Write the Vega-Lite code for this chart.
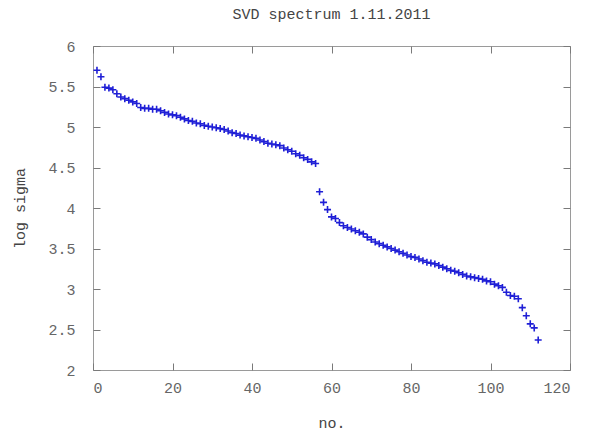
{
  "$schema": "https://vega.github.io/schema/vega-lite/v6.json",
  "width": 477,
  "height": 324,
  "autosize": "none",
  "padding": {"left": 93, "top": 46, "right": 19, "bottom": 64},
  "background": "white",
  "title": {"text": "SVD spectrum 1.11.2011", "font": "Liberation Mono", "fontSize": 15, "fontWeight": "normal", "color": "#444444", "offset": 17},
  "config": {
    "view": {"stroke": "#9a9a9a", "strokeWidth": 1},
    "axis": {"grid": false, "domain": false, "ticks": true, "zindex": 1, "tickColor": "#7a7a7a", "tickOpacity": 1, "tickWidth": 1, "labelFont": "Liberation Mono", "labelFontSize": 15, "labelColor": "#666666", "titleFont": "Liberation Mono", "titleFontSize": 15, "titleFontWeight": "normal", "titleColor": "#444444"}
  },
  "data": {"values": [
    {"n":1,"v":5.70},{"n":2,"v":5.62},{"n":3,"v":5.49},{"n":4,"v":5.48},{"n":5,"v":5.46},{"n":6,"v":5.41},{"n":7,"v":5.37},{"n":8,"v":5.35},{"n":9,"v":5.33},{"n":10,"v":5.31},
    {"n":11,"v":5.29},{"n":12,"v":5.24},{"n":13,"v":5.23},{"n":14,"v":5.23},{"n":15,"v":5.22},{"n":16,"v":5.22},{"n":17,"v":5.20},{"n":18,"v":5.18},{"n":19,"v":5.16},{"n":20,"v":5.15},
    {"n":21,"v":5.14},{"n":22,"v":5.12},{"n":23,"v":5.10},{"n":24,"v":5.08},{"n":25,"v":5.07},{"n":26,"v":5.05},{"n":27,"v":5.04},{"n":28,"v":5.02},{"n":29,"v":5.01},{"n":30,"v":5.00},
    {"n":31,"v":4.99},{"n":32,"v":4.98},{"n":33,"v":4.97},{"n":34,"v":4.95},{"n":35,"v":4.93},{"n":36,"v":4.92},{"n":37,"v":4.90},{"n":38,"v":4.89},{"n":39,"v":4.88},{"n":40,"v":4.87},
    {"n":41,"v":4.86},{"n":42,"v":4.84},{"n":43,"v":4.82},{"n":44,"v":4.80},{"n":45,"v":4.79},{"n":46,"v":4.78},{"n":47,"v":4.77},{"n":48,"v":4.74},{"n":49,"v":4.72},{"n":50,"v":4.70},
    {"n":51,"v":4.67},{"n":52,"v":4.65},{"n":53,"v":4.62},{"n":54,"v":4.60},{"n":55,"v":4.57},{"n":56,"v":4.55},{"n":57,"v":4.20},{"n":58,"v":4.07},{"n":59,"v":3.98},{"n":60,"v":3.89},
    {"n":61,"v":3.87},{"n":62,"v":3.82},{"n":63,"v":3.78},{"n":64,"v":3.76},{"n":65,"v":3.74},{"n":66,"v":3.72},{"n":67,"v":3.70},{"n":68,"v":3.68},{"n":69,"v":3.64},{"n":70,"v":3.61},
    {"n":71,"v":3.58},{"n":72,"v":3.56},{"n":73,"v":3.54},{"n":74,"v":3.52},{"n":75,"v":3.50},{"n":76,"v":3.48},{"n":77,"v":3.46},{"n":78,"v":3.44},{"n":79,"v":3.42},{"n":80,"v":3.40},
    {"n":81,"v":3.39},{"n":82,"v":3.37},{"n":83,"v":3.35},{"n":84,"v":3.33},{"n":85,"v":3.32},{"n":86,"v":3.31},{"n":87,"v":3.29},{"n":88,"v":3.27},{"n":89,"v":3.25},{"n":90,"v":3.23},
    {"n":91,"v":3.22},{"n":92,"v":3.20},{"n":93,"v":3.18},{"n":94,"v":3.16},{"n":95,"v":3.15},{"n":96,"v":3.14},{"n":97,"v":3.13},{"n":98,"v":3.12},{"n":99,"v":3.10},{"n":100,"v":3.09},
    {"n":101,"v":3.06},{"n":102,"v":3.04},{"n":103,"v":3.02},{"n":104,"v":2.96},{"n":105,"v":2.92},{"n":106,"v":2.91},{"n":107,"v":2.88},{"n":108,"v":2.77},{"n":109,"v":2.67},{"n":110,"v":2.57},
    {"n":111,"v":2.52},{"n":112,"v":2.37}
  ]},
  "layer": [
    {
      "mark": {"type": "point", "shape": "M-1,0L1,0M0,-1L0,1", "filled": false, "stroke": "#1f1fd6", "strokeWidth": 1.6, "size": 49, "opacity": 1},
      "encoding": {
        "x": {"field": "n", "type": "quantitative", "scale": {"domain": [0, 120], "nice": false, "zero": false}, "axis": {"orient": "bottom", "values": [0,20,40,60,80,100,120], "format": "d", "offset": -7, "ticks": true, "tickSize": 7, "labelPadding": 10, "title": "no.", "titlePadding": 20}},
        "y": {"field": "v", "type": "quantitative", "scale": {"domain": [2, 6], "nice": false, "zero": false}, "axis": {"orient": "left", "values": [2,2.5,3,3.5,4,4.5,5,5.5,6], "format": "~g", "offset": -7, "ticks": true, "tickSize": 7, "labelPadding": 18, "title": "log sigma", "titlePadding": 20}}
      }
    },
    {
      "mark": {"type": "point", "opacity": 0},
      "encoding": {
        "x": {"field": "n", "type": "quantitative", "axis": {"orient": "top", "values": [0,20,40,60,80,100,120], "offset": -7, "ticks": true, "tickSize": 7, "labels": false, "title": null}},
        "y": {"field": "v", "type": "quantitative", "axis": {"orient": "right", "values": [2,2.5,3,3.5,4,4.5,5,5.5,6], "offset": -7, "ticks": true, "tickSize": 7, "labels": false, "title": null}}
      }
    }
  ],
  "resolve": {"axis": {"x": "independent", "y": "independent"}}
}
